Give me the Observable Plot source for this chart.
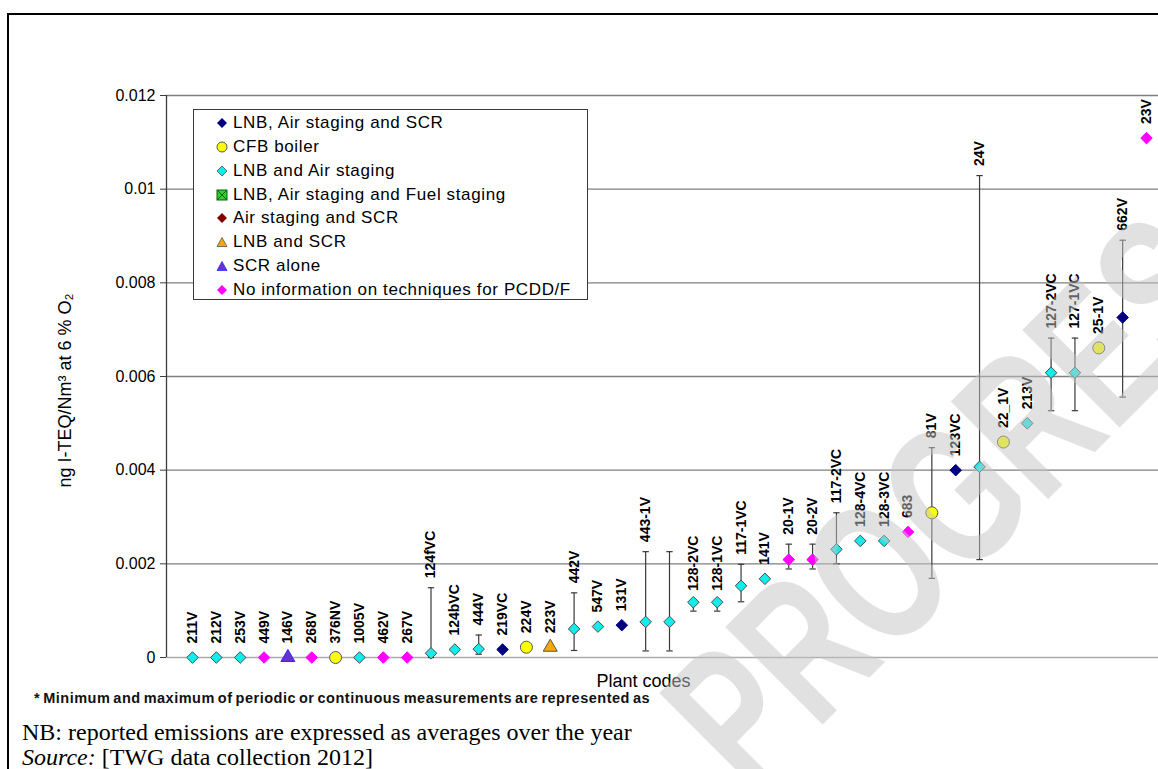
<!DOCTYPE html>
<html>
<head>
<meta charset="utf-8">
<script src="https://cdn.jsdelivr.net/npm/d3@7"></script>
<script src="https://cdn.jsdelivr.net/npm/@observablehq/plot@0.6"></script>
<style>
  html, body { margin: 0; padding: 0; background: #fff; }
  #wrap { position: relative; width: 1158px; height: 769px; overflow: hidden; font-family: "Liberation Sans", Arial, sans-serif; }
  #frame { position: absolute; left: 7px; top: 13px; width: 1200px; height: 800px; border-top: 2px solid #000; border-left: 2px solid #000; }
  #chart { position: absolute; left: 0; top: 0; }
  #legend { position: absolute; left: 193px; top: 109px; width: 395px; height: 191px; border: 1px solid #3a3a3a; background: #fff; box-sizing: border-box; }
  .li { position: absolute; left: 0; height: 22px; display: flex; align-items: center; font-size: 17px; letter-spacing: 0.62px; color: #000; white-space: nowrap; }
  .li svg { margin-left: 22px; margin-right: 5px; }
  #note1 { position: absolute; left: 34px; top: 690px; font-size: 14.5px; font-weight: bold; letter-spacing: 0.5px; word-spacing: -1.5px; white-space: nowrap; color: #111; }
  #note2 { position: absolute; left: 22px; top: 720px; line-height: 24px; font-family: "Liberation Serif", "Times New Roman", serif; font-size: 24px; white-space: nowrap; }
  #note3 { position: absolute; left: 22px; top: 745px; line-height: 24px; font-family: "Liberation Serif", "Times New Roman", serif; font-size: 24px; white-space: nowrap; }
  #wm { position: absolute; left: 0; top: 0; pointer-events: none; }
</style>
</head>
<body>
<div id="wrap">
  <div id="frame"></div>
  <div id="chart"></div>
  <div id="legend"></div>
  <div id="note1">* Minimum and maximum of periodic or continuous measurements are represented as</div>
  <div id="note2">NB: reported emissions are expressed as averages over the year</div>
  <div id="note3"><i>Source:</i> [TWG data collection 2012]</div>
</div>
<script>
// ---------- data ----------
const categories = [
  "LNB, Air staging and SCR",
  "CFB boiler",
  "LNB and Air staging",
  "LNB, Air staging and Fuel staging",
  "Air staging and SCR",
  "LNB and SCR",
  "SCR alone",
  "No information on techniques for PCDD/F"
];
const plantCodes = ["211V","212V","253V","449V","146V","268V","376NV","1005V","462V","267V",
  "124fVC","124bVC","444V","219VC","224V","223V","442V","547V","131V","443-1V",
  "","128-2VC","128-1VC","117-1VC","141V","20-1V","20-2V","117-2VC","128-4VC","128-3VC",
  "683","81V","123VC","24V","22_1V","213V","127-2VC","127-1VC","25-1V","662V","23V"];
const technique = [2,2,2,7,6,7,1,2,7,7, 2,2,2,0,1,5,2,2,0,2, 2,2,2,2,2,7,7,2,2,2, 7,1,0,2,1,2,2,2,1,0, 7];
const emissions = [0,0,0,0,0,0,0,0,0,0,
  0.00009,0.00017,0.00018,0.00017,0.00022,0.00022,0.00061,0.00066,0.00069,0.00076,
  0.00076,0.00118,0.00118,0.00153,0.00168,0.00209,0.00209,0.00231,0.00249,0.00249,
  0.00268,0.00309,0.00400,0.00407,0.00460,0.00500,0.00608,0.00608,0.00661,0.00726,
  0.01109];
const minValues = [null,null,null,null,null,null,null,null,null,null,
  0,null,0.00007,null,null,null,0.00015,null,null,0.00014,
  0.00014,0.00099,0.00099,0.00119,null,0.00189,0.00189,0.00200,null,null,
  null,0.00169,null,0.00209,null,null,0.00527,0.00527,null,0.00556,
  null];
const maxValues = [null,null,null,null,null,null,null,null,null,null,
  0.00149,null,0.00048,null,null,null,0.00138,null,null,0.00226,
  0.00226,0.00122,0.00122,0.00199,null,0.00242,0.00242,0.00309,null,null,
  null,0.00448,null,0.01029,null,null,0.00682,0.00682,null,0.00891,
  null];
const yTicks = [0, 0.002, 0.004, 0.006, 0.008, 0.01, 0.012];
const yTickLabels = ["0", "0.002", "0.004", "0.006", "0.008", "0.01", "0.012"];
const yLabel = "ng I-TEQ/Nm\u00B3 at 6 % O\u2082";
const xLabel = "Plant codes";

// ---------- styles ----------
const catStyle = [
  {symbol: "diamond2", fill: "#000080", stroke: "#000080", r: 5.2},
  {symbol: "circle", fill: "#ffff00", stroke: "#555555", r: 6},
  {symbol: "diamond2", fill: "#14ecec", stroke: "#4a4a4a", r: 5.2},
  {symbol: "square", fill: "#33cc33", stroke: "#006600", r: 5},
  {symbol: "diamond2", fill: "#800000", stroke: "#800000", r: 5.2},
  {symbol: "triangle", fill: "#ffa500", stroke: "#555555", r: 5.2},
  {symbol: "triangle", fill: "#6633cc", stroke: "#2b2bff", r: 5.2},
  {symbol: "diamond2", fill: "#ff00ff", stroke: "#ff00ff", r: 5.2}
];

const data = plantCodes.map((code, i) => ({
  i, label: code, v: emissions[i], lo: minValues[i], hi: maxValues[i], cat: technique[i]
}));
const withErr = data.filter(d => d.hi != null);
const noErr = data.filter(d => d.hi == null);

const capSymbol = {
  draw(ctx, size) {
    const w = Math.sqrt(size / Math.PI);
    ctx.moveTo(-w, 0); ctx.lineTo(w, 0);
  }
};

const axisLine = (index, scales, values, dims) => {
  const g = d3.create("svg:g");
  g.append("line")
    .attr("x1", dims.marginLeft + 0.5).attr("x2", dims.marginLeft + 0.5)
    .attr("y1", scales.y(0.012)).attr("y2", scales.y(0))
    .attr("stroke", "#3c3c3c").attr("stroke-width", 1.3);
  return g.node();
};

const marks = [
  Plot.gridY(yTicks.filter(t => t > 0), {stroke: "#7f7f7f", strokeOpacity: 1, strokeWidth: 1.4}),
  Plot.ruleY([0], {stroke: "#ababab", strokeWidth: 1.4}),
  Plot.axisY({ticks: yTicks, tickFormat: (d) => yTickLabels[yTicks.indexOf(d)], tickSize: 6, tickPadding: 5,
    fontSize: 16, label: null, stroke: "#3c3c3c", ariaLabel: "yticks"}),
  axisLine,
  Plot.text([yLabel], {frameAnchor: "left", textAnchor: "middle", dx: -101, dy: 14, rotate: -90, fontSize: 18, ariaLabel: "ylabel"}),
  Plot.text([xLabel], {frameAnchor: "bottom", textAnchor: "middle", dx: -19, dy: 29, fontSize: 18, ariaLabel: "xlabel"}),
  Plot.ruleX(withErr, {x: "i", y1: "lo", y2: "hi", stroke: "#3a3a3a", strokeWidth: 1.2}),
  Plot.dot(withErr, {x: "i", y: "lo", symbol: capSymbol, r: 3.2, fill: "none", stroke: "#3a3a3a", strokeWidth: 1.2}),
  Plot.dot(withErr, {x: "i", y: "hi", symbol: capSymbol, r: 3.2, fill: "none", stroke: "#3a3a3a", strokeWidth: 1.2}),
  ...catStyle.map((s, k) => Plot.dot(data.filter(d => d.cat === k), {
    x: "i", y: "v", symbol: s.symbol, r: s.r, fill: s.fill, stroke: s.stroke, strokeWidth: 1
  })),
  Plot.text(withErr, {x: "i", y: "hi", text: "label", rotate: -90, textAnchor: "start", dy: -9.5,
    fontSize: 14, fontWeight: "bold", fill: "#000"}),
  Plot.text(noErr, {x: "i", y: "v", text: "label", rotate: -90, textAnchor: "start", dy: -14,
    fontSize: 14, fontWeight: "bold", fill: "#000"})
];

const chart = Plot.plot({
  width: 1158,
  height: 690,
  marginLeft: 166,
  marginRight: 0,
  marginTop: 95,
  marginBottom: 33,
  style: {fontFamily: "'Liberation Sans', Arial, sans-serif", background: "transparent", color: "#000", overflow: "visible"},
  x: {type: "point", domain: d3.range(plantCodes.length), range: [192, 1146], padding: 0, axis: null},
  y: {domain: [0, 0.012], axis: null},
  marks
});
d3.select(chart).selectAll('g[aria-label="yticks"] text').style("letter-spacing", "0.6px");
d3.select(chart).selectAll('g[aria-label="ylabel"] text').style("letter-spacing", "2.7px");
d3.select(chart).selectAll('g[aria-label="xlabel"] text').style("letter-spacing", "0.7px");
document.getElementById("chart").appendChild(chart);

// ---------- legend ----------
const legendShapes = [
  '<path d="M6,1 L11,6 L6,11 L1,6Z" fill="#000080"/>',
  '<circle cx="6" cy="6" r="5" fill="#ffff00" stroke="#555" stroke-width="1"/>',
  '<path d="M6,1 L11,6 L6,11 L1,6Z" fill="#14ecec" stroke="#4a4a4a" stroke-width="0.8"/>',
  '<rect x="1" y="1" width="10" height="10" fill="#33cc33" stroke="#006600" stroke-width="1"/><path d="M1,1L11,11M11,1L1,11" stroke="#006600" stroke-width="1"/>',
  '<path d="M6,1 L11,6 L6,11 L1,6Z" fill="#800000"/>',
  '<path d="M6,1.5 L11,10.5 L1,10.5Z" fill="#ffa500" stroke="#555" stroke-width="0.8"/>',
  '<path d="M6,1.5 L11,10.5 L1,10.5Z" fill="#6633cc" stroke="#2b2bff" stroke-width="0.8"/>',
  '<path d="M6,1 L11,6 L6,11 L1,6Z" fill="#ff00ff"/>'
];
const legend = document.getElementById("legend");
categories.forEach((c, k) => {
  const row = document.createElement("div");
  row.className = "li";
  row.style.top = (2 + k * 23.86) + "px";
  row.innerHTML = '<svg width="12" height="12" viewBox="0 0 12 12">' + legendShapes[k] + '</svg>';
  const span = document.createElement("span");
  span.textContent = c;
  row.appendChild(span);
  legend.appendChild(row);
});

// ---------- watermark ----------
const ns = "http://www.w3.org/2000/svg";
const wm = document.createElementNS(ns, "svg");
wm.setAttribute("id", "wm");
wm.setAttribute("width", 1158);
wm.setAttribute("height", 769);
const t = document.createElementNS(ns, "text");
t.setAttribute("x", 0);
t.setAttribute("y", 0);
t.setAttribute("transform", "translate(750 797) rotate(-45) scale(0.7 1)");
t.setAttribute("font-size", 200);
t.setAttribute("font-weight", "bold");
t.setAttribute("font-family", "'Liberation Sans', Arial, sans-serif");
t.setAttribute("fill", "#c4c4c4");
t.setAttribute("fill-opacity", "0.5");
t.textContent = "PROGRESS";
wm.appendChild(t);
document.getElementById("wrap").appendChild(wm);
</script>
</body>
</html>
